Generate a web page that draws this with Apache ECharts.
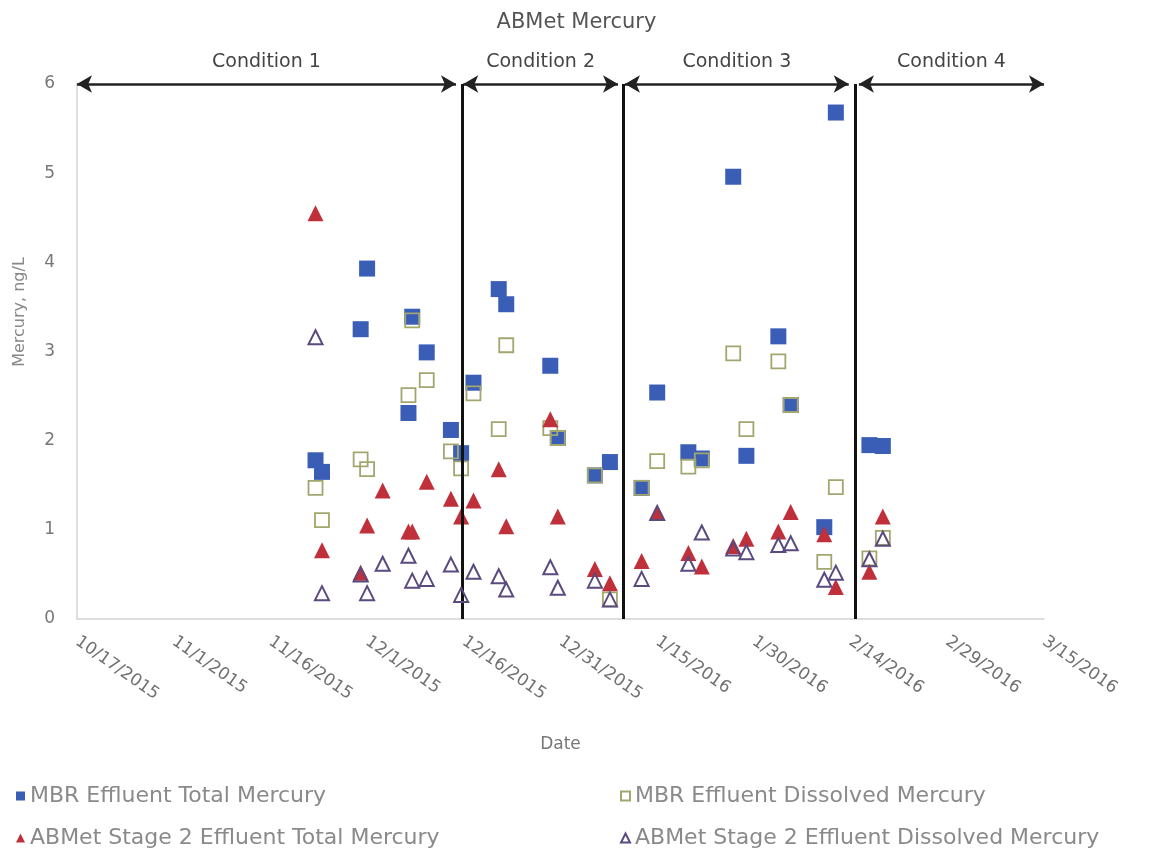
<!DOCTYPE html>
<html>
<head>
<meta charset="utf-8">
<script src="https://cdn.jsdelivr.net/npm/echarts@6/dist/echarts.min.js"></script>
<style>html,body{margin:0;padding:0;background:#fff}#c{width:1153px;height:849px}</style>
</head>
<body>
<div id="c"></div>
<script>
// ---- data ----
const axisStart = "2015-10-17";
const sampleDates = [
  "2015-11-23", "2015-11-24", "2015-11-30", "2015-12-01", "2015-12-03 10",
  "2015-12-07 10", "2015-12-08", "2015-12-10 06", "2015-12-14", "2015-12-15 14",
  "2015-12-17 12", "2015-12-21 10", "2015-12-22 14", "2015-12-29 10", "2015-12-30 14",
  "2016-01-05 08", "2016-01-07 16", "2016-01-12 14", "2016-01-15", "2016-01-19 20",
  "2016-01-21 22", "2016-01-26 19", "2016-01-28 20", "2016-02-02 19", "2016-02-04 17",
  "2016-02-09 22", "2016-02-11 17", "2016-02-16 22", "2016-02-19"
];
const mbrTotal = [1.78, 1.65, 3.25, 3.93, null, 2.31, 3.39, 2.99, 2.12, 1.86,
  2.65, 3.70, 3.53, 2.84, 2.03, 1.61, 1.76, 1.47, 2.54, 1.87,
  1.80, 4.96, 1.83, 3.17, 2.40, 1.03, 5.68, 1.95, 1.94];
const mbrDissolved = [1.47, 1.11, 1.79, 1.68, null, 2.51, 3.35, 2.68, 1.88, 1.69,
  2.53, 2.13, 3.07, 2.14, 2.03, 1.61, 0.22, 1.47, 1.77, 1.71,
  1.78, 2.98, 2.13, 2.89, 2.40, 0.64, 1.48, 0.68, 0.91];
const abmetTotal = [4.55, 0.77, 0.52, 1.05, 1.44, 0.98, 0.98, 1.54, 1.35, 1.15,
  1.33, 1.68, 1.04, 2.24, 1.15, 0.56, 0.40, 0.65, 1.19, 0.74,
  0.59, 0.82, 0.90, 0.98, 1.20, 0.95, 0.36, 0.53, 1.15];
const abmetDissolved = [3.16, 0.29, 0.50, 0.29, 0.62, 0.71, 0.43, 0.45, 0.61, 0.27,
  0.53, 0.48, 0.33, 0.58, 0.35, 0.43, 0.22, 0.45, 1.19, 0.62,
  0.97, 0.79, 0.75, 0.83, 0.85, 0.44, 0.52, 0.67, 0.90];
const seriesNames = [
  "MBR Effluent Total Mercury",
  "MBR Effluent Dissolved Mercury",
  "ABMet Stage 2 Effluent Total Mercury",
  "ABMet Stage 2 Effluent Dissolved Mercury"
];
const conditionNames = ["Condition 1", "Condition 2", "Condition 3", "Condition 4"];
const conditionStarts = ["2015-10-17", "2015-12-15 22", "2016-01-10", "2016-02-15 07"];
const conditionEnds = ["2015-12-14 19", "2016-01-08 22", "2016-02-13 17", "2016-03-15"];
const conditionBoundaries = ["2015-12-15 17", "2016-01-09 17", "2016-02-14 17"];
const axisDays = 150, tickDays = 15;
const yMin = 0, yMax = 6, yStep = 1;

// ---- helpers ----
function dayOffset(s) {
  const parts = s.split(" ");
  const [y, m, d] = parts[0].split("-").map(Number);
  const h = parts[1] ? Number(parts[1]) : 0;
  const [y0, m0, d0] = axisStart.split("-").map(Number);
  return (Date.UTC(y, m - 1, d, h) - Date.UTC(y0, m0 - 1, d0)) / 86400000;
}
function dayLabel(v) {
  const [y0, m0, d0] = axisStart.split("-").map(Number);
  const t = new Date(Date.UTC(y0, m0 - 1, d0) + Math.round(v) * 86400000);
  return (t.getUTCMonth() + 1) + "/" + t.getUTCDate() + "/" + t.getUTCFullYear();
}
function pairs(vals) {
  const out = [];
  vals.forEach((v, i) => { if (v !== null) out.push([dayOffset(sampleDates[i]), v]); });
  return out;
}

const FONT = "DejaVu Sans";
const chart = echarts.init(document.getElementById("c"), null, { renderer: "canvas" });

const legendBase = {
  selectedMode: false, itemWidth: 9, itemHeight: 9, orient: "horizontal",
  textStyle: { fontFamily: FONT, fontSize: 22, color: "#8a8a8a" }
};

const option = {
  animation: false,
  backgroundColor: "#ffffff",
  title: {
    text: "ABMet Mercury", left: "center", top: 7,
    textStyle: { fontFamily: FONT, fontSize: 21, fontWeight: "normal", color: "#555" }
  },
  legend: [
    Object.assign({}, legendBase, { data: [seriesNames[0]], left: 11, top: 780 }),
    Object.assign({}, legendBase, { data: [seriesNames[1]], left: 615, top: 780 }),
    Object.assign({}, legendBase, { data: [seriesNames[2]], left: 11, top: 822 }),
    Object.assign({}, legendBase, { data: [seriesNames[3]], left: 615, top: 822 })
  ],
  grid: { left: 77, right: 109, top: 84, bottom: 230 },
  xAxis: {
    type: "value", min: 0, max: axisDays, interval: tickDays,
    name: "Date", nameLocation: "middle", nameGap: 117,
    nameTextStyle: { fontFamily: FONT, fontSize: 17, color: "#777" },
    axisLine: { show: true, lineStyle: { color: "#d4d4d4", width: 1.5 } },
    axisTick: { show: false },
    splitLine: { show: false },
    axisLabel: {
      rotate: -35, margin: 21, formatter: dayLabel,
      fontFamily: FONT, fontSize: 17, color: "#707070"
    }
  },
  yAxis: {
    type: "value", min: yMin, max: yMax, interval: yStep,
    axisLine: { show: true, lineStyle: { color: "#d4d4d4", width: 1.5 } },
    axisTick: { show: false },
    splitLine: { show: false },
    axisLabel: { margin: 22, fontFamily: FONT, fontSize: 17, color: "#777" }
  },
  graphic: [{
    type: "text",
    rotation: Math.PI / 2,
    style: { text: "Mercury, ng/L", font: "16px " + FONT, fill: "#888",
             textAlign: "center", textVerticalAlign: "middle" },
    x: 20, y: 312
  }],
  series: [
    {
      name: seriesNames[0], type: "scatter", symbol: "rect", symbolSize: 16,
      itemStyle: { color: "#3a5db5", opacity: 1 }, data: pairs(mbrTotal), z: 2
    },
    {
      name: seriesNames[1], type: "scatter", symbol: "rect", symbolSize: 14,
      itemStyle: { color: "rgba(255,255,255,0)", borderColor: "#a3a66e", borderWidth: 1.8, opacity: 1 },
      data: pairs(mbrDissolved), z: 3
    },
    {
      name: seriesNames[2], type: "scatter", symbol: "triangle", symbolSize: 16,
      itemStyle: { color: "#c0303a", opacity: 1 }, data: pairs(abmetTotal), z: 4
    },
    {
      name: seriesNames[3], type: "scatter", symbol: "triangle", symbolSize: 14,
      itemStyle: { color: "rgba(255,255,255,0)", borderColor: "#5b4a7e", borderWidth: 2, opacity: 1 },
      data: pairs(abmetDissolved), z: 5
    },
    {
      name: "conditions", type: "scatter", data: [], z: 10, silent: true,
      markLine: {
        silent: true, animation: false,
        symbol: ["arrow", "arrow"], symbolSize: [13, 15],
        lineStyle: { color: "#222", width: 2.5, type: "solid" },
        label: {
          show: true, position: "insideMiddleTop", distance: 12,
          fontFamily: FONT, fontSize: 19, color: "#444",
          formatter: p => p.name
        },
        data: conditionNames.map((n, i) => [
          { name: n, coord: [dayOffset(conditionStarts[i]), yMax] },
          { coord: [dayOffset(conditionEnds[i]), yMax] }
        ])
      }
    },
    {
      name: "boundaries", type: "scatter", data: [], z: 11, silent: true,
      markLine: {
        silent: true, animation: false, symbol: ["none", "none"],
        lineStyle: { color: "#111", width: 3, type: "solid" },
        label: { show: false },
        data: conditionBoundaries.map(b => [
          { coord: [dayOffset(b), yMin] }, { coord: [dayOffset(b), yMax] }
        ])
      }
    }
  ]
};
chart.setOption(option);
</script>
</body>
</html>
